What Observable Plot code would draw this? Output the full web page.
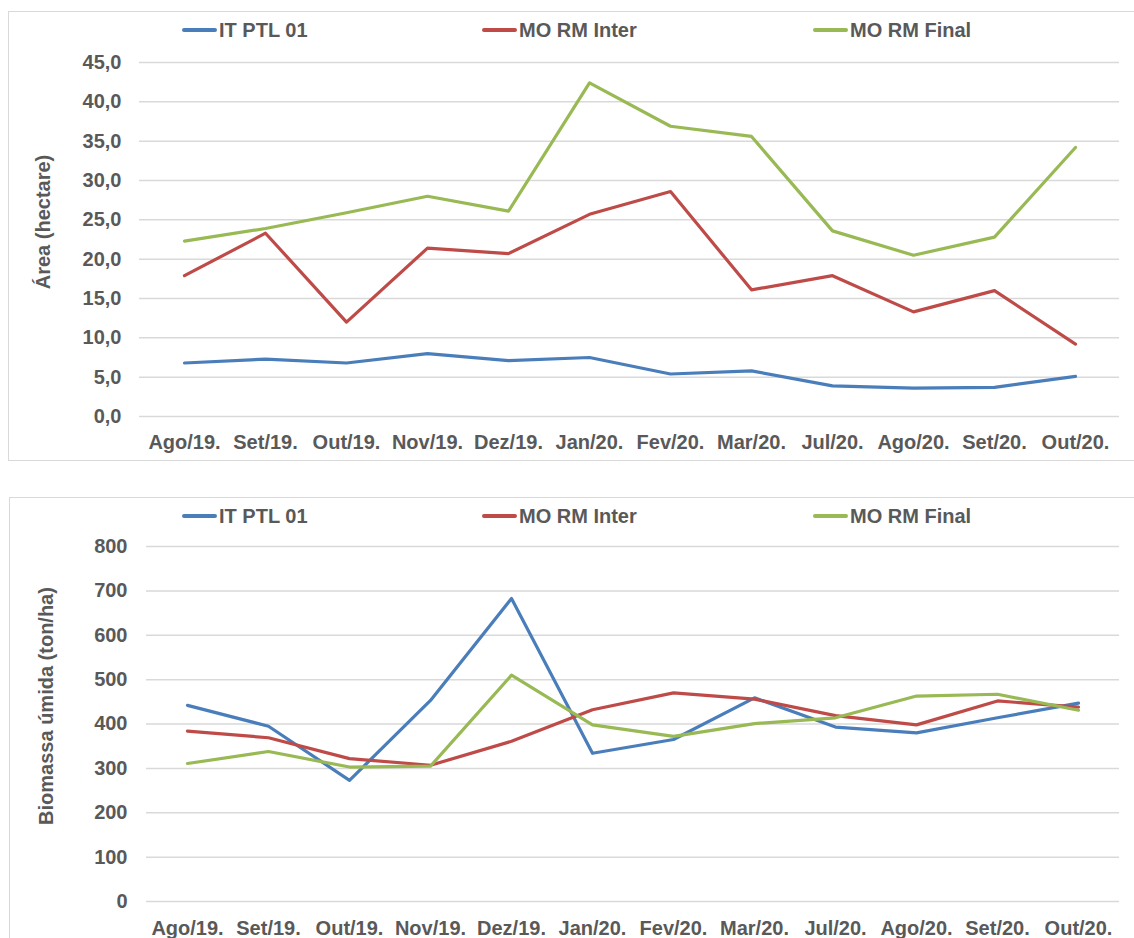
<!DOCTYPE html>
<html>
<head>
<meta charset="utf-8">
<script src="https://cdn.jsdelivr.net/npm/d3@7"></script>
<script src="https://cdn.jsdelivr.net/npm/@observablehq/plot@0.6"></script>
<style>
  html, body { margin: 0; padding: 0; background: #fff; overflow: hidden; }
  #page { position: relative; width: 1134px; height: 938px; overflow: hidden;
          font-family: "Liberation Sans", Arial, sans-serif; font-weight: bold; color: #595959; }
  .frame { position: absolute; border: 1px solid #d9d9d9; box-sizing: border-box; }
  .chart { position: absolute; left: 0; }
  .legend-item { position: absolute; font-size: 20px; line-height: 20px; white-space: nowrap; }
  .legend-line { position: absolute; height: 4px; border-radius: 2px; }
  .ytitle { position: absolute; font-size: 20px; white-space: nowrap;
            transform: translate(-50%, -50%) rotate(-90deg); }
</style>
</head>
<body>
<div id="page"></div>
<script>
// ---- data ----
const months = ["Ago/19.", "Set/19.", "Out/19.", "Nov/19.", "Dez/19.", "Jan/20.",
                "Fev/20.", "Mar/20.", "Jul/20.", "Ago/20.", "Set/20.", "Out/20."];
const seriesNames = ["IT PTL 01", "MO RM Inter", "MO RM Final"];
const seriesColors = ["#4a7ebb", "#be4b48", "#98b954"];

// Área (hectare)
const areaIT    = [6.8, 7.3, 6.8, 8.0, 7.1, 7.5, 5.4, 5.8, 3.9, 3.6, 3.7, 5.1];
const areaInter = [17.9, 23.3, 12.0, 21.4, 20.7, 25.7, 28.6, 16.1, 17.9, 13.3, 16.0, 9.2];
const areaFinal = [22.3, 23.9, 25.9, 28.0, 26.1, 42.4, 36.9, 35.6, 23.6, 20.5, 22.8, 34.2];

// Biomassa úmida (ton/ha)
const bioIT    = [442, 395, 273, 453, 683, 334, 365, 459, 393, 380, 414, 447];
const bioInter = [384, 369, 322, 307, 361, 432, 470, 456, 419, 398, 452, 438];
const bioFinal = [311, 338, 303, 305, 510, 398, 372, 401, 414, 463, 467, 431];

const areaTicks = [0, 5, 10, 15, 20, 25, 30, 35, 40, 45];
const bioTicks = [0, 100, 200, 300, 400, 500, 600, 700, 800];

const areaTitle = "Área (hectare)";
const bioTitle = "Biomassa úmida (ton/ha)";

// ---- helpers ----
function longTable(arrays) {
  const rows = [];
  arrays.forEach((arr, si) => {
    arr.forEach((v, i) => rows.push({ month: months[i], value: v, series: seriesNames[si] }));
  });
  return rows;
}

const page = document.getElementById("page");

function addFrame(left, top, width, height) {
  const f = document.createElement("div");
  f.className = "frame";
  Object.assign(f.style, { left: left + "px", top: top + "px", width: width + "px", height: height + "px" });
  page.appendChild(f);
}

function addLegend(centerY) {
  const lineStarts = [182, 482, 813];
  seriesNames.forEach((name, i) => {
    const ln = document.createElement("div");
    ln.className = "legend-line";
    Object.assign(ln.style, { left: lineStarts[i] + "px", width: "35px", top: (centerY - 2) + "px",
                              background: seriesColors[i] });
    page.appendChild(ln);
    const t = document.createElement("div");
    t.className = "legend-item";
    t.textContent = name;
    Object.assign(t.style, { left: (lineStarts[i] + 37) + "px", top: (centerY - 10) + "px" });
    page.appendChild(t);
  });
}

function addYTitle(text, cx, cy) {
  const t = document.createElement("div");
  t.className = "ytitle";
  t.textContent = text;
  Object.assign(t.style, { left: cx + "px", top: cy + "px" });
  page.appendChild(t);
}

function makeChart({ data, ticks, domain, fmt, top, height, mt, mb, ml, pad, xpad }) {
  const chart = Plot.plot({
    width: 1134,
    height,
    marginTop: mt,
    marginBottom: mb,
    marginLeft: ml,
    marginRight: 15,
    style: { fontFamily: '"Liberation Sans", Arial, sans-serif', fontSize: "20px", fontWeight: "bold",
             color: "#595959", background: "transparent", overflow: "visible" },
    x: { type: "point", domain: months, padding: 0.5, label: null },
    y: { domain, label: null },
    color: { domain: seriesNames, range: seriesColors },
    marks: [
      Plot.gridY(ticks, { stroke: "#d9d9d9", strokeOpacity: 1, strokeWidth: 1.5 }),
      Plot.axisY(ticks, { tickSize: 0, tickPadding: pad, tickFormat: fmt, label: null }),
      Plot.axisX({ tickSize: 0, tickPadding: xpad, label: null }),
      Plot.line(data, { x: "month", y: "value", z: "series", stroke: "series", strokeWidth: 3.2,
                        strokeLinejoin: "round", strokeLinecap: "round" })
    ]
  });
  chart.classList.add("chart");
  chart.style.top = top + "px";
  page.appendChild(chart);
}

// ---- top chart ----
addFrame(8, 11, 1140, 450);
makeChart({
  data: longTable([areaIT, areaInter, areaFinal]),
  ticks: areaTicks, domain: [0, 45],
  fmt: d => d.toFixed(1).replace(".", ","),
  top: 0, height: 460, mt: 62, mb: 44, ml: 139, pad: 18, xpad: 18
});
addLegend(30);
addYTitle(areaTitle, 43, 222);

// ---- bottom chart ----
addFrame(9, 497, 1140, 460);
makeChart({
  data: longTable([bioIT, bioInter, bioFinal]),
  ticks: bioTicks, domain: [0, 800],
  fmt: d => String(d),
  top: 497, height: 441, mt: 49, mb: 37, ml: 146, pad: 19, xpad: 19
});
addLegend(516);
addYTitle(bioTitle, 46, 706);
</script>
</body>
</html>
